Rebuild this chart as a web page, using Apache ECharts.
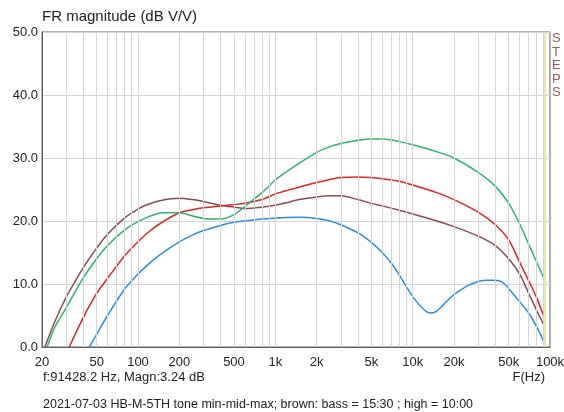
<!DOCTYPE html>
<html>
<head>
<meta charset="utf-8">
<script src="https://cdn.jsdelivr.net/npm/echarts@6/dist/echarts.min.js"></script>
<style>html,body{margin:0;padding:0;background:#fff;}#c{width:564px;height:412px;}</style>
</head>
<body>
<div id="c"></div>
<script>
// Frequencies (Hz) and magnitudes (dB)
const brownF = [21, 25, 30, 40, 50, 60, 80, 100, 120, 150, 200, 250, 300, 400, 500, 600, 800, 1000, 1200, 1500, 2000, 2500, 3000, 4000, 5000, 6000, 8000, 10000, 15000, 20000, 30000, 40000, 50000, 60000, 70000, 80000, 91428.2];
const brownY = [0, 4.2, 7.9, 12.6, 15.7, 17.9, 20.5, 21.9, 22.7, 23.3, 23.6, 23.4, 23.1, 22.5, 22.2, 22.0, 22.2, 22.5, 22.9, 23.4, 23.8, 24.0, 24.0, 23.4, 22.8, 22.4, 21.7, 21.1, 20.0, 19.1, 17.6, 16.1, 14.0, 11.6, 8.5, 5.8, 3.24];
const greenF = [21.8, 25, 30, 40, 50, 60, 80, 100, 120, 150, 200, 250, 300, 400, 500, 600, 800, 1000, 1200, 1500, 2000, 2500, 3000, 4000, 5000, 6000, 8000, 10000, 15000, 20000, 30000, 40000, 50000, 60000, 70000, 80000, 91428.2];
const greenY = [0, 3.3, 6.2, 11.0, 14.0, 16.1, 18.6, 19.9, 20.7, 21.3, 21.3, 20.8, 20.4, 20.3, 21.0, 22.3, 24.5, 26.5, 27.8, 29.2, 30.9, 31.8, 32.3, 32.8, 33.0, 33.0, 32.6, 32.1, 31.0, 30.0, 27.7, 25.5, 22.8, 19.6, 16.3, 13.5, 10.6];
const redF = [31.6, 40, 50, 60, 80, 100, 120, 150, 200, 250, 300, 400, 500, 600, 800, 1000, 1200, 1500, 2000, 2500, 3000, 4000, 5000, 6000, 8000, 10000, 15000, 20000, 30000, 40000, 50000, 60000, 70000, 80000, 91428.2];
const redY = [0, 4.7, 8.5, 10.9, 14.5, 16.7, 18.3, 19.8, 21.3, 21.8, 22.1, 22.4, 22.6, 22.8, 23.4, 24.3, 24.8, 25.4, 26.1, 26.6, 26.9, 27.0, 26.9, 26.7, 26.3, 25.7, 24.5, 23.4, 21.4, 19.4, 17.0, 13.5, 10.5, 7.8, 4.5];
const blueF = [44.2, 50, 60, 80, 100, 120, 150, 200, 250, 300, 400, 500, 600, 800, 1000, 1200, 1500, 2000, 2500, 3000, 4000, 5000, 6000, 7000, 8000, 10000, 12000, 13500, 15000, 17600, 20000, 25000, 30000, 35000, 40000, 45000, 50000, 60000, 70000, 80000, 91428.2];
const blueY = [0, 2.0, 5.0, 9.2, 11.6, 13.2, 14.9, 16.7, 17.8, 18.5, 19.3, 19.8, 20.0, 20.3, 20.45, 20.55, 20.6, 20.4, 20.0, 19.4, 18.1, 16.6, 15.0, 13.3, 11.4, 8.0, 6.0, 5.4, 5.7, 7.2, 8.3, 9.7, 10.4, 10.6, 10.6, 10.3, 9.3, 7.2, 5.4, 3.2, 0.6];

// Axis ticks
const xTickValues = [20, 50, 100, 200, 500, 1000, 2000, 5000, 10000, 20000, 50000, 100000];
const xTickLabels = ['20', '50', '100', '200', '500', '1k', '2k', '5k', '10k', '20k', '50k', '100k'];
const xGridValues = [30, 40, 50, 60, 70, 80, 90, 100, 200, 300, 400, 500, 600, 700, 800, 900, 1000,
  2000, 3000, 4000, 5000, 6000, 7000, 8000, 9000, 10000, 20000, 30000, 40000, 50000, 60000, 70000, 80000, 90000];
const cursorF = 91428.2;

const zip = (f, y) => f.map((v, i) => [v, y[i]]);

const chart = echarts.init(document.getElementById('c'), null, {renderer: 'canvas'});
const lineSeries = (name, f, y, color) => ({
  name, type: 'line', data: zip(f, y), smooth: 0.3, showSymbol: false, symbol: 'none',
  lineStyle: {color, width: 1.5}, clip: true, z: 3
});

chart.setOption({
  animation: false,
  grid: {left: 42, right: 14, top: 32, bottom: 65, show: true, borderColor: '#606060', borderWidth: 1,
    backgroundColor: 'transparent', containLabel: false, outerBoundsMode: 'none'},
  xAxis: {
    type: 'log', logBase: 10, min: 20, max: 100000,
    axisLine: {show: true, lineStyle: {color: '#606060'}},
    axisTick: {show: false},
    splitLine: {show: false},
    minorTick: {show: false}, minorSplitLine: {show: false},
    axisLabel: {
      customValues: xTickValues,
      formatter: v => { const i = xTickValues.findIndex(t => Math.abs(t - v) / t < 1e-6); return i >= 0 ? xTickLabels[i] : ''; },
      color: '#222', fontSize: 13, fontFamily: 'Liberation Sans, Arial', margin: 9, hideOverlap: false
    }
  },
  yAxis: {
    type: 'value', min: 0, max: 50, interval: 10,
    axisLine: {show: true, lineStyle: {color: '#606060'}},
    axisTick: {show: false},
    splitLine: {show: true, lineStyle: {color: '#d4d4d4', width: 1}},
    axisLabel: {formatter: v => v.toFixed(1), color: '#222', fontSize: 13, fontFamily: 'Liberation Sans, Arial', margin: 4}
  },
  series: [
    {
      type: 'line', data: [], silent: true,
      markLine: {
        silent: true, symbol: 'none', animation: false,
        label: {show: false},
        lineStyle: {color: '#d4d4d4', width: 1, type: 'solid'},
        data: xGridValues.map(v => ({xAxis: v}))
      }
    },
    {
      type: 'line', data: [], silent: true,
      markLine: {
        silent: true, symbol: 'none', animation: false,
        label: {show: false},
        lineStyle: {color: '#ece6a8', width: 2, type: 'solid'},
        data: [{xAxis: cursorF}]
      }
    },
    lineSeries('brown', brownF, brownY, '#8a4c4c'),
    lineSeries('red', redF, redY, '#dd2424'),
    lineSeries('green', greenF, greenY, '#2db56e'),
    lineSeries('blue', blueF, blueY, '#2a8fe0')
  ],
  graphic: [
    {type: 'text', left: 42, top: 9, style: {text: 'FR magnitude (dB V/V)', fill: '#222', font: '15px "Liberation Sans", Arial'}},
    {type: 'text', left: 552, top: 32, style: {text: 'S\nT\nE\nP\nS', fill: '#a05656', font: '13px "Liberation Sans", Arial', lineHeight: 13.5}},
    {type: 'text', left: 43, top: 371, style: {text: 'f:91428.2 Hz, Magn:3.24 dB', fill: '#222', font: '13px "Liberation Sans", Arial'}},
    {type: 'text', right: 19, top: 371, style: {text: 'F(Hz)', fill: '#222', font: '13px "Liberation Sans", Arial'}},
    {type: 'text', left: 43, top: 398, style: {text: '2021-07-03 HB-M-5TH tone min-mid-max; brown: bass = 15:30 ; high = 10:00', fill: '#222', font: '12.5px "Liberation Sans", Arial'}}
  ]
});
</script>
</body>
</html>
